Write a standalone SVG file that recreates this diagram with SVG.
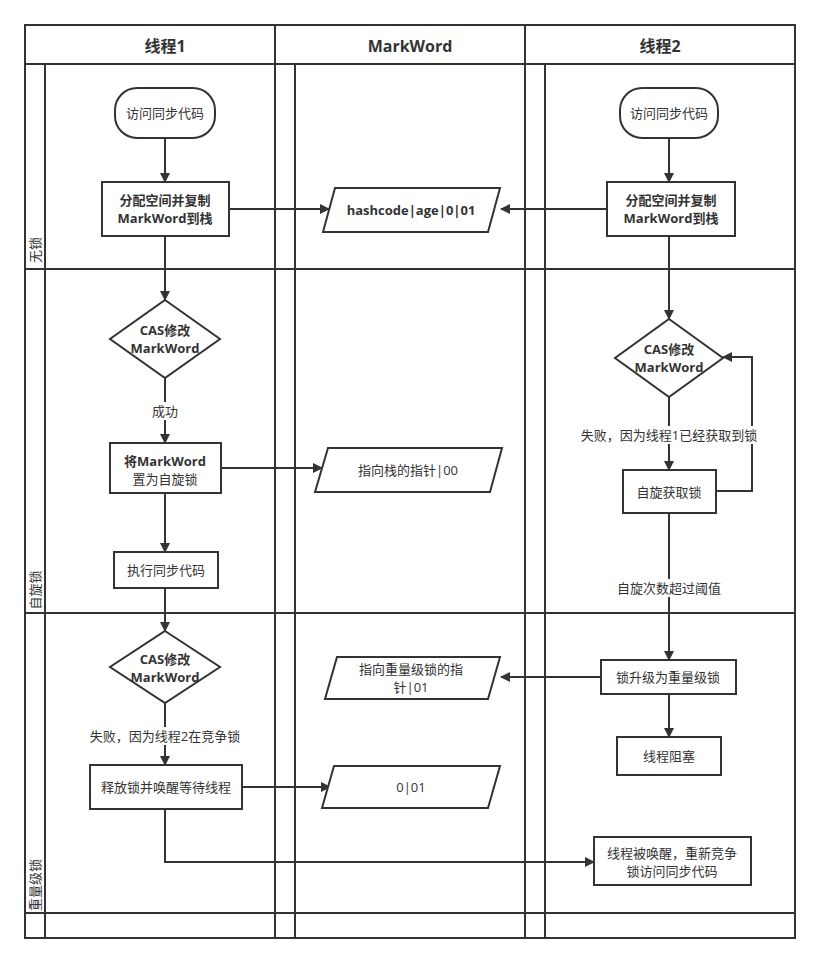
<svg xmlns="http://www.w3.org/2000/svg" width="820" height="964" viewBox="0 0 820 964">
<defs>
<style>
.ln{fill:none;stroke:#333;stroke-width:2}
.nd{fill:#fff;stroke:#333;stroke-width:2}
.c{stroke:#333;stroke-width:2;fill:none;marker-end:url(#a)}
text{font-family:"Open Sans","Noto Sans CJK SC",sans-serif;font-size:13px;fill:#333;text-anchor:middle;dominant-baseline:central}
.h{font-size:16px;font-weight:bold}
.b{font-weight:bold}
</style>
<marker id="a" viewBox="0 0 10 10" refX="9" refY="5" markerWidth="10" markerHeight="12" orient="auto" markerUnits="userSpaceOnUse"><path d="M0,0L10,5L0,10z" fill="#333"/></marker>
</defs>
<rect width="820" height="964" fill="#fff"/>
<g id="lanes">
<rect class="ln" x="25" y="25" width="770" height="913"/>
<path class="ln" d="M25,64H795M275,25V938M525,25V938M45,64V938M295,64V938M545,64V938M25,269H795M25,613H795M25,913H795"/>
<text class="h" x="165" y="46">线程1</text>
<text class="h" x="410" y="46">MarkWord</text>
<text class="h" x="660" y="46">线程2</text>
<text transform="translate(35,250) rotate(-90)" font-size="12">无锁</text>
<text transform="translate(35,590) rotate(-90)" font-size="12">自旋锁</text>
<text transform="translate(35,885) rotate(-90)" font-size="12">重量级锁</text>
</g>
<g id="connectors">
<path class="c" d="M165,138V182"/>
<path class="c" d="M229,209H329"/>
<path class="c" d="M607,209H501"/>
<path class="c" d="M669,138V182"/>
<path class="c" d="M165,236V300"/>
<path class="c" d="M165,378V443"/>
<path class="c" d="M221,468H322"/>
<path class="c" d="M165,493V552"/>
<path class="c" d="M165,588V631"/>
<path class="c" d="M669,236V319"/>
<path class="c" d="M669,397V470"/>
<path class="c" d="M716,491H752V357H723"/>
<path class="c" d="M669,513V660"/>
<path class="c" d="M601,677H501"/>
<path class="c" d="M669,694V737"/>
<path class="c" d="M165,703V765"/>
<path class="c" d="M242,787H330"/>
<path class="c" d="M165,809V862H594"/>
<rect x="145" y="402" width="40" height="18" fill="#fff"/>
<text x="165" y="411">成功</text>
<rect x="582" y="426" width="174" height="18" fill="#fff"/>
<text x="669" y="435">失败，因为线程1已经获取到锁</text>
<rect x="617" y="579" width="104" height="18" fill="#fff"/>
<text x="669" y="588">自旋次数超过阈值</text>
<rect x="88" y="727" width="154" height="18" fill="#fff"/>
<text x="165" y="736">失败，因为线程2在竞争锁</text>
</g>
<g id="n1"><rect class="nd" x="115" y="88" width="100" height="50" rx="22"/><text x="165" y="113">访问同步代码</text></g>
<g id="n2"><rect class="nd" x="102" y="182" width="127" height="54"/><text class="b" x="165" y="200">分配空间并复制</text><text class="b" x="165" y="218">MarkWord到栈</text></g>
<g id="m1"><path class="nd" d="M335,188H500L488,232H323z"/><text class="b" x="411" y="210">hashcode|age|0|01</text></g>
<g id="t1"><rect class="nd" x="620" y="88" width="98" height="50" rx="22"/><text x="669" y="113">访问同步代码</text></g>
<g id="t2"><rect class="nd" x="607" y="182" width="128" height="54"/><text class="b" x="671" y="200">分配空间并复制</text><text class="b" x="671" y="218">MarkWord到栈</text></g>
<g id="n3"><path class="nd" d="M165,300L220,339L165,378L110,339z"/><text class="b" x="165" y="330">CAS修改</text><text class="b" x="165" y="348">MarkWord</text></g>
<g id="n4"><rect class="nd" x="110" y="443" width="111" height="50"/><text class="b" x="165" y="461">将MarkWord</text><text x="165" y="479">置为自旋锁</text></g>
<g id="m2"><path class="nd" d="M328,448H502L490,492H315z"/><text x="408" y="470">指向栈的指针|00</text></g>
<g id="n5"><rect class="nd" x="114" y="552" width="104" height="36"/><text x="166" y="570">执行同步代码</text></g>
<g id="t3"><path class="nd" d="M669,319L723,358L669,397L615,358z"/><text class="b" x="669" y="349">CAS修改</text><text class="b" x="669" y="367">MarkWord</text></g>
<g id="t4"><rect class="nd" x="623" y="470" width="93" height="43"/><text x="669" y="492">自旋获取锁</text></g>
<g id="n6"><path class="nd" d="M165,631L220,667L165,703L110,667z"/><text class="b" x="165" y="659">CAS修改</text><text class="b" x="165" y="677">MarkWord</text></g>
<g id="t5"><rect class="nd" x="601" y="660" width="135" height="34"/><text x="668" y="677">锁升级为重量级锁</text></g>
<g id="m3"><path class="nd" d="M337,657H500L488,699H325z"/><text x="411" y="669">指向重量级锁的指</text><text x="411" y="687">针|01</text></g>
<g id="t6"><rect class="nd" x="617" y="737" width="104" height="38"/><text x="669" y="756">线程阻塞</text></g>
<g id="n7"><rect class="nd" x="90" y="765" width="152" height="44"/><text x="166" y="787">释放锁并唤醒等待线程</text></g>
<g id="m4"><path class="nd" d="M334,766H500L488,808H322z"/><text x="411" y="787">0|01</text></g>
<g id="t7"><rect class="nd" x="594" y="837" width="157" height="48"/><text x="672" y="853">线程被唤醒，重新竞争</text><text x="672" y="871">锁访问同步代码</text></g>
</svg>
